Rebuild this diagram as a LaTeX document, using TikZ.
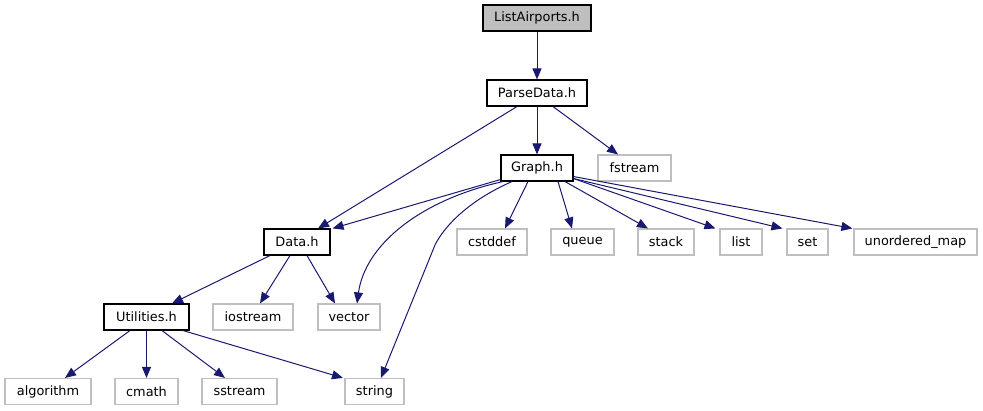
\documentclass[tikz,border=0pt]{standalone}
\usepackage{fontspec}
\setmainfont{DejaVu Sans}
\usetikzlibrary{arrows.meta}
\definecolor{edgeblue}{HTML}{191970}
\definecolor{extgray}{HTML}{BFBFBF}
\tikzset{
  box/.style={draw=black, line width=1.1pt, fill=white, inner sep=0pt, minimum height=26pt, font=\fontsize{12.9}{15}\selectfont},
  mainbox/.style={box, fill=extgray},
  extbox/.style={box, draw=extgray},
  edge/.style={draw=edgeblue, line width=1pt, -{Triangle[length=11pt,width=9pt]}},
}
\begin{document}
\begin{tikzpicture}[x=1pt,y=-1pt]
\useasboundingbox (0,0) rectangle (983,411);
\node[mainbox, minimum width=108pt] (la) at (537,18) {ListAirports.h};
\node[box, minimum width=100pt] (pd) at (537,93) {ParseData.h};
\node[box, minimum width=72pt] (gr) at (537,168) {Graph.h};
\node[extbox, minimum width=73pt] (fs) at (634.5,168) {fstream};
\node[box, minimum width=66pt] (da) at (297,242) {Data.h};
\node[extbox, minimum width=70pt] (cs) at (492,242) {cstddef};
\node[extbox, minimum width=63pt] (qu) at (582.5,242) {queue};
\node[extbox, minimum width=56pt] (st) at (666,242) {stack};
\node[extbox, minimum width=42pt] (li) at (741,242) {list};
\node[extbox, minimum width=41pt] (se) at (807.5,242) {set};
\node[extbox, minimum width=123pt] (um) at (915.5,242) {unordered\_map};
\node[box, minimum width=85pt] (ut) at (146.5,317) {Utilities.h};
\node[extbox, minimum width=80pt] (io) at (253,317) {iostream};
\node[extbox, minimum width=62pt] (ve) at (349,317) {vector};
\node[extbox, minimum width=86pt] (al) at (48,391.5) {algorithm};
\node[extbox, minimum width=63pt] (cm) at (146.5,391.5) {cmath};
\node[extbox, minimum width=75pt] (ss) at (239.5,391.5) {sstream};
\node[extbox, minimum width=59pt] (sg) at (374.5,391.5) {string};

\draw[edge] (la.south) -- (pd.north);
\draw[edge] ([xshift=-20pt]pd.south) -- ([xshift=21pt]da.north);
\draw[edge] (pd.south) -- (gr.north);
\draw[edge] ([xshift=16pt]pd.south) -- ([xshift=-16.5pt]fs.north);
\draw[edge] ([yshift=2pt]gr.south west) -- ([xshift=2pt]da.north east);
\draw[edge] ([xshift=-34pt]gr.south) .. controls (420,200) and (365,245) .. ([xshift=8pt]ve.north);
\draw[edge] ([xshift=-25pt]gr.south) .. controls (470,200) and (445,225) .. (435,245) -- ([xshift=6.5pt]sg.north);
\draw[edge] ([xshift=-9pt]gr.south) -- ([xshift=13pt]cs.north);
\draw[edge] ([xshift=21pt]gr.south) -- ([xshift=-10.5pt]qu.north);
\draw[edge] ([xshift=28pt]gr.south) -- ([xshift=-18pt]st.north);
\draw[edge] ([yshift=3pt]gr.south east) -- ([xshift=-4pt]li.north west);
\draw[edge] ([yshift=3pt]gr.south east) -- ([xshift=-4pt]se.north west);
\draw[edge] ([yshift=5pt]gr.south east) -- ([xshift=-1pt]um.north west);
\draw[edge] ([xshift=-27pt]da.south) -- ([xshift=25.5pt]ut.north);
\draw[edge] ([xshift=-7pt]da.south) -- ([xshift=7pt]io.north);
\draw[edge] ([xshift=10pt]da.south) -- ([xshift=-14pt]ve.north);
\draw[edge] ([xshift=-16.5pt]ut.south) -- ([xshift=17pt]al.north);
\draw[edge] (ut.south) -- (cm.north);
\draw[edge] ([xshift=15.5pt]ut.south) -- ([xshift=-14.5pt]ss.north);
\draw[edge] ([xshift=36.5pt]ut.south) -- ([xshift=-31.5pt]sg.north);
\end{tikzpicture}
\end{document}
